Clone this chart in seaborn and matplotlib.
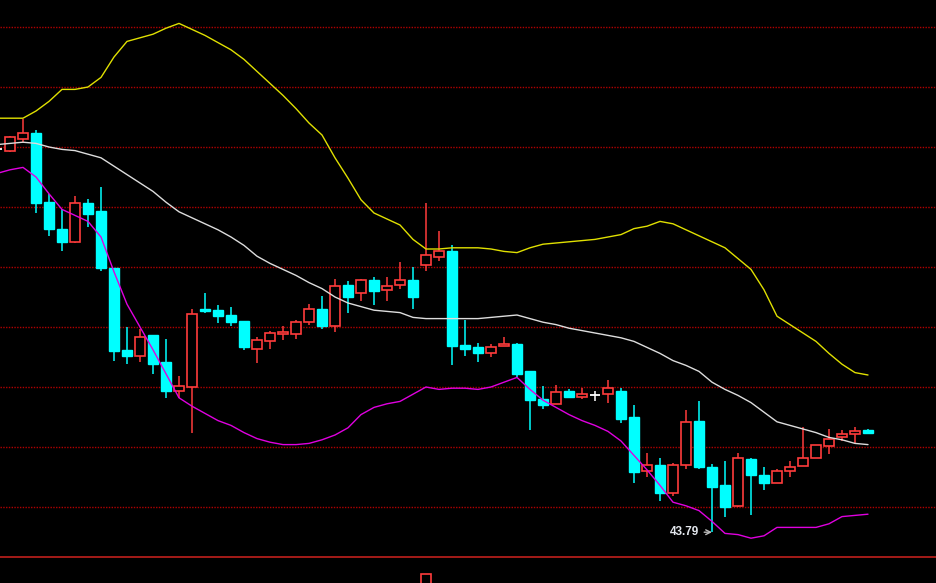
import numpy as np
import seaborn as sns
import matplotlib
matplotlib.use('Agg')
import matplotlib.pyplot as plt

# candle index (first one sits just off the left edge)
idx = list(range(-1, 67))

opens = [46.98, 46.97, 47.07, 47.12, 46.54, 46.32, 46.21, 46.53, 46.47, 45.99,
         45.31, 45.26, 45.43, 45.21, 44.97, 45.00, 45.65, 45.64, 45.60, 45.55,
         45.32, 45.38, 45.44, 45.44, 45.54, 45.65, 45.51, 45.85, 45.78, 45.89,
         45.81, 45.85, 45.89, 46.02, 46.08, 46.13, 45.35, 45.33, 45.28, 45.34,
         45.36, 45.13, 44.90, 44.86, 44.97, 44.92, 44.93, 44.94, 44.97, 44.75,
         44.30, 44.35, 44.12, 44.35, 44.72, 44.33, 44.18, 44.01, 44.40, 44.27,
         44.20, 44.30, 44.34, 44.41, 44.51, 44.58, 44.61, 44.64]
highs = [46.99, 47.09, 47.23, 47.14, 46.61, 46.48, 46.59, 46.57, 46.67, 45.99,
         45.50, 45.48, 45.43, 45.40, 45.09, 45.65, 45.78, 45.68, 45.67, 45.55,
         45.42, 45.47, 45.51, 45.56, 45.69, 45.76, 45.90, 45.88, 45.90, 45.92,
         45.92, 46.04, 46.00, 46.53, 46.30, 46.18, 45.56, 45.37, 45.36, 45.42,
         45.37, 45.13, 45.01, 45.02, 44.98, 44.99, 44.97, 45.06, 44.99, 44.85,
         44.45, 44.41, 44.37, 44.81, 44.88, 44.36, 44.38, 44.45, 44.41, 44.33,
         44.32, 44.38, 44.67, 44.52, 44.65, 44.64, 44.67, 44.65]
lows = [46.97, 46.96, 47.04, 46.45, 46.26, 46.13, 46.20, 46.33, 45.97, 45.22,
        45.19, 45.21, 45.11, 44.91, 44.91, 44.62, 45.62, 45.53, 45.51, 45.31,
        45.20, 45.32, 45.39, 45.40, 45.52, 45.48, 45.46, 45.62, 45.72, 45.68,
        45.72, 45.82, 45.65, 45.97, 46.05, 45.18, 45.26, 45.21, 45.25, 45.34,
        45.08, 44.64, 44.82, 44.86, 44.92, 44.90, 44.88, 44.87, 44.70, 44.20,
        44.25, 44.05, 44.09, 44.32, 44.32, 43.79, 43.92, 44.00, 43.93, 44.14,
        44.20, 44.25, 44.34, 44.41, 44.44, 44.55, 44.53, 44.62]
closes = [46.98, 47.08, 47.12, 46.53, 46.32, 46.21, 46.53, 46.44, 45.99, 45.30,
          45.26, 45.42, 45.19, 44.97, 45.01, 45.61, 45.63, 45.59, 45.54, 45.33,
          45.39, 45.45, 45.46, 45.54, 45.65, 45.51, 45.84, 45.75, 45.89, 45.80,
          45.84, 45.89, 45.75, 46.10, 46.13, 45.34, 45.32, 45.28, 45.33, 45.36,
          45.11, 44.89, 44.85, 44.96, 44.92, 44.94, 44.93, 44.99, 44.73, 44.29,
          44.35, 44.12, 44.35, 44.71, 44.33, 44.17, 44.00, 44.41, 44.27, 44.20,
          44.30, 44.33, 44.41, 44.52, 44.57, 44.61, 44.63, 44.62]

# bollinger bands
upper = [47.24, 47.24, 47.24, 47.30, 47.38, 47.48, 47.48, 47.50, 47.58, 47.75,
         47.88, 47.91, 47.94, 47.99, 48.03, 47.98, 47.93, 47.87, 47.81, 47.73,
         47.63, 47.53, 47.43, 47.32, 47.20, 47.10, 46.91, 46.74, 46.56, 46.45,
         46.40, 46.35, 46.23, 46.15, 46.15, 46.16, 46.16, 46.16, 46.15, 46.13,
         46.12, 46.16, 46.19, 46.20, 46.21, 46.22, 46.23, 46.25, 46.27, 46.32,
         46.34, 46.38, 46.36, 46.31, 46.26, 46.21, 46.16, 46.07, 45.98, 45.81,
         45.59, 45.52, 45.45, 45.38, 45.28, 45.19, 45.12, 45.10]
mid = [47.02, 47.03, 47.04, 47.03, 47.00, 46.98, 46.97, 46.94, 46.91, 46.84,
       46.77, 46.70, 46.63, 46.54, 46.46, 46.41, 46.36, 46.31, 46.25, 46.18,
       46.09, 46.03, 45.98, 45.93, 45.87, 45.82, 45.75, 45.70, 45.67, 45.64,
       45.63, 45.62, 45.58, 45.57, 45.57, 45.57, 45.57, 45.57, 45.58, 45.59,
       45.60, 45.57, 45.54, 45.52, 45.49, 45.47, 45.45, 45.43, 45.41, 45.38,
       45.33, 45.28, 45.22, 45.18, 45.13, 45.04, 44.98, 44.93, 44.87, 44.79,
       44.71, 44.68, 44.65, 44.62, 44.58, 44.56, 44.53, 44.52]
lower = [46.78, 46.81, 46.83, 46.75, 46.61, 46.48, 46.43, 46.38, 46.25, 45.96,
         45.69, 45.50, 45.31, 45.11, 44.91, 44.84, 44.78, 44.72, 44.68, 44.62,
         44.57, 44.54, 44.52, 44.52, 44.53, 44.56, 44.60, 44.66, 44.77, 44.83,
         44.86, 44.88, 44.94, 45.00, 44.98, 44.99, 44.99, 44.98, 45.00, 45.04,
         45.08, 44.98, 44.89, 44.83, 44.77, 44.72, 44.68, 44.63, 44.55, 44.43,
         44.31, 44.18, 44.04, 44.01, 43.97, 43.88, 43.78, 43.77, 43.74, 43.76,
         43.83, 43.83, 43.83, 43.83, 43.86, 43.92, 43.93, 43.94]

grid_levels = [44.0, 44.5, 45.0, 45.5, 46.0, 46.5, 47.0, 47.5, 48.0]
low_label = '43.79'
low_index = 54

# volume pane: only the tallest bar reaches into view
vol_index = [32]
vol_value = [85]

RED = '#ff3c3c'
CYAN = '#00ffff'

sns.set_theme(style='dark', rc={'axes.facecolor': 'black',
                                'figure.facecolor': 'black'})

fig = plt.figure(figsize=(9.36, 5.83), dpi=100)
ax = fig.add_axes([0, 26/583, 1, 557/583])
ax.set_facecolor('black')

ax.set_xlim(-10/13, 926/13)
ax.set_ylim(44 - 50/120, 44 + 507/120)
ax.set_yticks(grid_levels)
ax.yaxis.grid(True, color='#b00000', linestyle=(0, (1, 1)), linewidth=1)
ax.xaxis.grid(False)
ax.set_xticks([])
ax.set_yticklabels([])
ax.tick_params(length=0)
for s in ax.spines.values():
    s.set_visible(False)

o = np.array(opens); h = np.array(highs); l = np.array(lows); c = np.array(closes)
x = np.array(idx)
up = c > o
dn = c < o
eq = c == o

ax.vlines(x[up], l[up], h[up], color=RED, lw=1.1, zorder=1)
ax.vlines(x[dn], l[dn], h[dn], color=CYAN, lw=1.1, zorder=1)
ax.vlines(x[eq], l[eq], h[eq], color='white', lw=1.1, zorder=1)

ax.bar(x[up], (c - o)[up], bottom=o[up], width=0.78, color='black',
       edgecolor=RED, linewidth=1.2, zorder=2)
ax.bar(x[dn], (o - c)[dn], bottom=c[dn], width=0.78, color=CYAN,
       edgecolor=CYAN, linewidth=1.0, zorder=2)
ax.hlines(c[eq], x[eq] - 0.4, x[eq] + 0.4, color='white', lw=1.3, zorder=2)

sns.lineplot(x=idx, y=upper, color='#e0e000', lw=1.0, ax=ax, zorder=3)
sns.lineplot(x=idx, y=mid, color='#dddddd', lw=1.0, ax=ax, zorder=3)
sns.lineplot(x=idx, y=lower, color='#e000e0', lw=1.0, ax=ax, zorder=3)

ax.annotate(low_label, xy=(low_index, float(low_label)), xytext=(-9, 0),
            textcoords='offset points', ha='right', va='center',
            color='#e4e8ee', fontsize=8.5, fontweight='bold',
            family=['Liberation Sans', 'DejaVu Sans'],
            arrowprops=dict(arrowstyle='->', color='#bbbbbb', lw=1,
                            shrinkA=1, shrinkB=0))

vax = fig.add_axes([0, 26/583 - 0.2, 1, 0.2])
vax.set_facecolor('black')
vax.set_xlim(-10/13, 926/13)
vax.set_ylim(0, 100)
vax.bar(vol_index, vol_value, width=0.78, color='black', edgecolor=RED, linewidth=1.2)
vax.set_xticks([])
vax.set_yticks([])
vax.grid(False)
for name, s in vax.spines.items():
    s.set_visible(name == 'top')
vax.spines['top'].set_color('#c0201c')
vax.spines['top'].set_linewidth(1.2)

fig.savefig('out.png', dpi=100, facecolor='black')
